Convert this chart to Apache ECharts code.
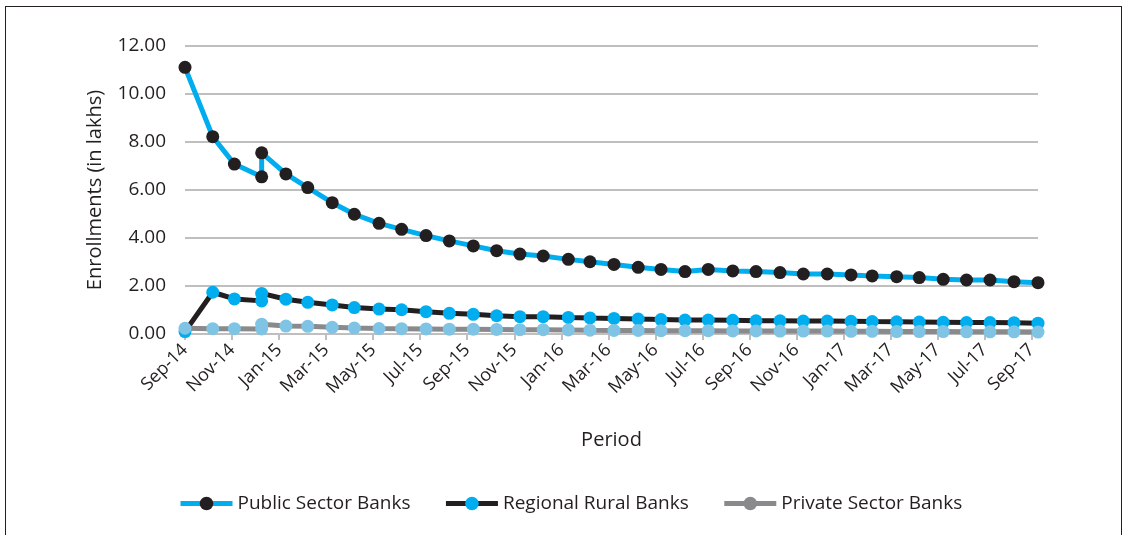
<!DOCTYPE html>
<html>
<head>
<meta charset="utf-8">
<script src="https://cdn.jsdelivr.net/npm/echarts@6/dist/echarts.min.js"></script>
<style>
html,body{margin:0;padding:0;background:#fff;}
#frame{position:absolute;left:5px;top:6px;width:1117px;height:540px;border:1px solid #231f20;box-sizing:border-box;}
#chart{position:absolute;left:0;top:0;width:1124px;height:535px;}
</style>
</head>
<body>
<div id="frame"></div>
<div id="chart"></div>
<script>
// Tick labels (every 2 months from Sep-14)
var tickLabels = ['Sep-14','Nov-14','Jan-15','Mar-15','May-15','Jul-15','Sep-15','Nov-15','Jan-16','Mar-16','May-16','Jul-16','Sep-16','Nov-16','Jan-17','Mar-17','May-17','Jul-17','Sep-17'];
// Observation dates, in months after Sep-14 (date axis; Dec-14 reported twice)
var obsMonths = [0, 1.18, 2.10, 3.26, 3.26, 4.29, 5.22, 6.26, 7.20, 8.25, 9.21, 10.25, 11.24, 12.26, 13.25, 14.24, 15.23, 16.30, 17.22, 18.24, 19.27, 20.24, 21.26, 22.25, 23.29, 24.28, 25.30, 26.29, 27.31, 28.32, 29.22, 30.26, 31.22, 32.24, 33.23, 34.23, 35.25, 36.27];
var publicSector = [11.11, 8.22, 7.08, 6.55, 7.55, 6.67, 6.10, 5.47, 4.99, 4.61, 4.36, 4.10, 3.88, 3.67, 3.47, 3.33, 3.25, 3.11, 3.01, 2.90, 2.78, 2.69, 2.60, 2.69, 2.63, 2.60, 2.56, 2.50, 2.50, 2.46, 2.42, 2.39, 2.35, 2.28, 2.25, 2.25, 2.18, 2.14];
var regionalRural = [0.10, 1.74, 1.46, 1.38, 1.69, 1.45, 1.32, 1.21, 1.10, 1.04, 1.01, 0.93, 0.86, 0.82, 0.76, 0.72, 0.72, 0.69, 0.67, 0.65, 0.62, 0.60, 0.58, 0.58, 0.57, 0.55, 0.55, 0.54, 0.54, 0.53, 0.52, 0.51, 0.50, 0.49, 0.48, 0.48, 0.47, 0.45];
var privateSector = [0.24, 0.22, 0.22, 0.21, 0.41, 0.33, 0.32, 0.28, 0.25, 0.23, 0.22, 0.21, 0.20, 0.20, 0.19, 0.18, 0.18, 0.17, 0.16, 0.15, 0.15, 0.14, 0.14, 0.14, 0.13, 0.13, 0.12, 0.12, 0.12, 0.11, 0.11, 0.10, 0.10, 0.10, 0.09, 0.09, 0.09, 0.08];
var seriesNames = ['Public Sector Banks', 'Regional Rural Banks', 'Private Sector Banks'];

function pairs(vals){ return vals.map(function(v,i){ return [obsMonths[i], v]; }); }

var FONT = 'Open Sans';
var TXT = '#231f20';
var chart = echarts.init(document.getElementById('chart'), null, {renderer:'canvas'});
chart.setOption({
  animation: false,
  grid: {left: 185, right: 86, top: 46, bottom: 201, containLabel: false},
  legend: {
    bottom: 17, left: 173,
    itemWidth: 52, itemHeight: 17, itemGap: 33,
    lineStyle: {width: 5},
    textStyle: {fontFamily: FONT, fontSize: 19, color: TXT},
    data: [
      {name: seriesNames[0]},
      {name: seriesNames[1]},
      {name: seriesNames[2], itemStyle: {color: '#8a8a8c'}}
    ]
  },
  xAxis: {
    type: 'value', min: 0, max: obsMonths[obsMonths.length-1], interval: 2,
    name: 'Period', nameLocation: 'middle', nameGap: 96,
    nameTextStyle: {fontFamily: FONT, fontSize: 20, color: TXT},
    axisLine: {show: true, lineStyle: {color: '#bfbfbf', width: 2}},
    axisTick: {show: true, length: 6, lineStyle: {color: '#bfbfbf', width: 2}},
    splitLine: {show: false},
    axisLabel: {
      rotate: 45, margin: 13, fontFamily: FONT, fontSize: 18, color: TXT,
      showMaxLabel: false,
      formatter: function(v){ var k = v/2; return (Math.abs(k-Math.round(k))<1e-6 && tickLabels[Math.round(k)]) ? tickLabels[Math.round(k)] : ''; }
    }
  },
  yAxis: {
    type: 'value', min: 0, max: 12, interval: 2,
    name: 'Enrollments (in lakhs)', nameLocation: 'middle', nameGap: 80,
    nameTextStyle: {fontFamily: FONT, fontSize: 20, color: TXT},
    axisLine: {show: false}, axisTick: {show: false},
    splitLine: {lineStyle: {color: '#bfbfbf', width: 2}},
    axisLabel: {margin: 19, fontFamily: FONT, fontSize: 19, color: TXT, formatter: function(v){ return v.toFixed(2); }}
  },
  series: [
    {name: seriesNames[0], type: 'line', data: pairs(publicSector), symbol: 'circle', symbolSize: 13,
     lineStyle: {color: '#00aeef', width: 5}, itemStyle: {color: '#231f20'}},
    {name: seriesNames[1], type: 'line', data: pairs(regionalRural), symbol: 'circle', symbolSize: 13,
     lineStyle: {color: '#231f20', width: 5}, itemStyle: {color: '#00aeef'}},
    {name: seriesNames[2], type: 'line', data: pairs(privateSector), symbol: 'circle', symbolSize: 13,
     lineStyle: {color: '#8a8a8c', width: 5}, itemStyle: {color: '#7fc4e4'}}
  ]
});
</script>
</body>
</html>
